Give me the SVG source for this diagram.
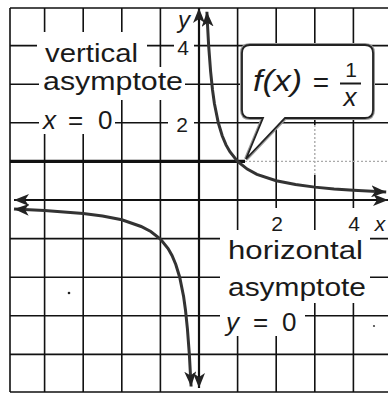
<svg xmlns="http://www.w3.org/2000/svg" width="388" height="394" viewBox="0 0 388 394">
<style>
.grid{stroke:#111;stroke-width:1.6;fill:none}
.faint{stroke:#aaa;stroke-width:1.4;fill:none;stroke-dasharray:2 2}
.axis{stroke:#111;stroke-width:2.2;fill:none}
.curve{stroke:#333;stroke-width:3;fill:none}
.bg{fill:#fff}
.t{font-family:"Liberation Sans","Open Sans",sans-serif;fill:#1a1a1a}
.lbl{font-size:26px}
.num{font-size:21px}
.it{font-style:italic}
</style>
<defs>
<marker id="ah" markerUnits="userSpaceOnUse" markerWidth="16" markerHeight="12" refX="15" refY="6" orient="auto-start-reverse" viewBox="0 0 16 12">
<path d="M0,0 L15,6 L0,12 L4,6 Z" fill="#222"/>
</marker>
</defs>
<rect width="388" height="394" fill="#fff"/>
<g id="grid">
<path class="grid" d="M10,8V392 M44.6,8V392 M83.2,8V392 M121.8,8V392 M160.4,8V392 M237.6,8V392 M276.2,8V392 M314.8,8V125 M314.8,175V392 M353.4,8V392"/>
<path class="grid" d="M10,8H388 M10,45.6H388 M10,84.2H388 M10,122.8H388 M10,238.6H388 M10,277.2H388 M10,315.8H388 M10,354.4H388 M10,392H388"/>
<path class="faint" d="M245,161.4H388 M314.8,125V175"/>
<path d="M10,161.4H245" stroke="#111" stroke-width="3.2"/>
<circle cx="69" cy="293" r="1.3" fill="#222"/>
<circle cx="374" cy="326" r="1.1" fill="#444"/>
</g>
<g id="label-bgs">
<rect class="bg" x="37" y="32" width="110" height="35"/>
<rect class="bg" x="39" y="67" width="146" height="33"/>
<rect class="bg" x="39" y="100" width="76" height="34"/>
<rect class="bg" x="174" y="10" width="20" height="25"/>
<rect class="bg" x="174" y="38" width="20" height="20"/>
<rect class="bg" x="168" y="113" width="26" height="21"/>
<rect class="bg" x="266" y="208" width="24" height="26"/>
<rect class="bg" x="343" y="208" width="23" height="26"/>
<rect class="bg" x="370" y="210" width="18" height="24"/>
<rect class="bg" x="220" y="230" width="150" height="36"/>
<rect class="bg" x="220" y="266" width="150" height="37"/>
<rect class="bg" x="220" y="303" width="85" height="33"/>
</g>
<g id="axes">
<path class="axis" d="M199,200H14" marker-end="url(#ah)"/>
<path class="axis" d="M199,200H388" marker-end="url(#ah)"/>
<path class="axis" d="M199,200V8" marker-end="url(#ah)"/>
<path class="axis" d="M199,200V388" marker-end="url(#ah)"/>
</g>
<g id="connectors">
<path id="branch-q1" class="curve" marker-start="url(#ah)" marker-end="url(#ah)" d="M206.9,11.7 L207.5,24.5 L208.65,45.6 L210.6,71.3 L212.5,89.7 L214.4,103.5 L218.3,122.8 L222.2,135.7 L226,144.9 L229.9,151.75 L237.6,161.4 L247.25,169.1 L256.9,174.3 L276.2,180.7 L295.5,184.56 L314.8,187.13 L334.1,188.97 L353.4,190.35 L386.2,192.04"/>
<path id="branch-q3" class="curve" marker-start="url(#ah)" marker-end="url(#ah)" d="M14,209 L44.6,210.6 L83.2,213.5 L102.5,216 L121.8,219.8 L141.1,226.5 L150.75,231.5 L160.4,239 L168.1,248.5 L172,255.5 L175.8,264.5 L179.7,277.2 L183.6,296.5 L185.5,310.3 L187.4,328.7 L189.35,354.4 L190.5,375.5 L191.1,386.5"/>
</g>
<g id="callout">
<path d="M250,45 H365 Q373,45 373,53 V110 Q373,118 365,118 H285 L246,159 L263,118 H250 Q242,118 242,110 V53 Q242,45 250,45 Z" fill="#fff" stroke="#999" stroke-width="4"/>
<path d="M250,45 H365 Q373,45 373,53 V110 Q373,118 365,118 H285 L246,159 L263,118 H250 Q242,118 242,110 V53 Q242,45 250,45 Z" fill="#fff" stroke="#222" stroke-width="1.8"/>
<text class="t it" x="253" y="91" font-size="30" textLength="49" lengthAdjust="spacingAndGlyphs">f(x)</text>
<text class="t" x="321" y="92" font-size="28" text-anchor="middle">=</text>
<line x1="340" y1="83.5" x2="361" y2="83.5" stroke="#1a1a1a" stroke-width="2"/>
<text class="t" x="351" y="77" font-size="21" text-anchor="middle">1</text>
<text class="t it" x="350" y="106" font-size="26" text-anchor="middle">x</text>
</g>
<g id="label-vertical-asymptote">
<text class="t lbl"><tspan x="45" y="62" textLength="93" lengthAdjust="spacingAndGlyphs">vertical</tspan><tspan x="43" y="90" textLength="140" lengthAdjust="spacingAndGlyphs">asymptote</tspan><tspan x="43" y="129" font-style="italic">x</tspan><tspan x="68" y="129">=</tspan><tspan x="98" y="129">0</tspan></text>
</g>
<g id="label-horizontal-asymptote">
<text class="t lbl"><tspan x="228" y="259" textLength="135" lengthAdjust="spacingAndGlyphs">horizontal</tspan><tspan x="228" y="296" textLength="138" lengthAdjust="spacingAndGlyphs">asymptote</tspan><tspan x="226" y="331" font-style="italic">y</tspan><tspan x="253" y="331">=</tspan><tspan x="282" y="331">0</tspan></text>
</g>
<g id="axis-labels">
<text class="t it" x="184" y="28" font-size="24" text-anchor="middle">y</text>
<text class="t num" x="183" y="55" text-anchor="middle">4</text>
<text class="t num" x="182" y="132" text-anchor="middle">2</text>
<text class="t num" x="277" y="231" text-anchor="middle">2</text>
<text class="t num" x="354" y="231" text-anchor="middle">4</text>
<text class="t num it" x="380" y="231" text-anchor="middle">x</text>
</g>
</svg>
